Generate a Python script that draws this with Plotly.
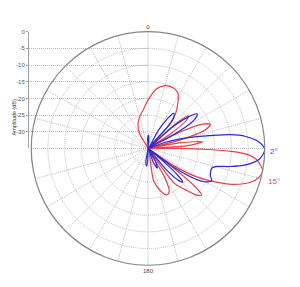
import plotly.graph_objects as go

# ---- data (angle clockwise from top, deg ; amplitude dB) ----
blue_theta = [-6, -2, 2, 6, 9,
              30, 33, 36, 39, 42, 45,
              49, 52, 55, 58, 61, 64,
              70, 74, 77, 80.5, 83, 86.5, 90.5, 95.5, 99.5, 102.5, 104.5, 107, 110, 114, 117, 120, 123, 126, 128,
              130, 132, 134, 136, 139, 144,
              150, 155, 159, 170,
              181, 185, 189, 193]
blue_r = [-35, -32, -31, -32.5, -35,
          -28.5, -24.5, -22, -22.5, -25.5, -35,
          -25, -19.5, -17, -18.5, -24, -35,
          -30, -24, -19, -10, -5.5, -1.8, 0, -1.5, -5.3, -10, -13.5, -15, -15, -14.5, -13.5, -15, -18.5, -25, -35,
          -29, -23, -20.5, -21.5, -26, -35,
          -30.5, -28.5, -30.5, -35,
          -31.5, -29.7, -31, -35]

red_theta = [-35, -30, -22, -14, -6, 0, 8, 15, 22, 28, 33, 38, 42, 45,
             48, 51, 54, 57, 60,
             63, 66, 69, 72, 75, 78,
             80, 83, 86, 88,
             90, 91, 92, 93.5, 96, 101, 105, 108.5, 113, 116.5, 120.5, 123.5, 126,
             127.5, 129, 131, 134, 138, 143, 147,
             150, 154, 158, 163, 170, 177]
red_r = [-35, -30, -27, -25, -23, -20.5, -17, -15.5, -15.3, -16, -18.5, -21.5, -26, -35,
         -25, -19.5, -21, -27, -35,
         -24, -17, -15, -17, -25, -35,
         -25, -18.5, -23, -35,
         -26, -17, -10, -5, -2.2, 0, -0.8, -2.8, -7.5, -12.5, -18.5, -25, -35,
         -25, -17, -13.7, -15, -18.5, -22, -35,
         -25, -20.5, -20, -21.5, -25, -35]

radial_ticks = [0, -5, -10, -15, -20, -25, -30]
angle_ticks = list(range(0, 360, 15))
angle_text = ["0" if a == 0 else ("180" if a == 180 else "") for a in angle_ticks]
series_labels = ["2°", "15°"]

W, H = 300, 287
grid = "#bdbdbd"
gdash = "1px,1px"
fnt = "Liberation Sans, Arial, sans-serif"

fig = go.Figure()
fig.add_trace(go.Scatterpolar(theta=red_theta, r=red_r, mode="lines",
                              line=dict(color="#e8414b", width=1.2, shape="spline", smoothing=0.8),
                              hoverinfo="skip", showlegend=False))
fig.add_trace(go.Scatterpolar(theta=blue_theta, r=blue_r, mode="lines",
                              line=dict(color="#2a2ad6", width=1.2, shape="spline", smoothing=0.8),
                              hoverinfo="skip", showlegend=False))
# invisible trace to materialise the cartesian amplitude axis
fig.add_trace(go.Scatter(x=[0.5], y=[-35], mode="markers", marker=dict(opacity=0),
                         hoverinfo="skip", showlegend=False))

cx0, cx1 = 30 / W, 266 / W
cy0, cy1 = (H - 265) / H, (H - 29) / H

fig.update_layout(
    width=W, height=H,
    margin=dict(l=0, r=0, t=0, b=0),
    paper_bgcolor="white", plot_bgcolor="rgba(0,0,0,0)",
    font=dict(family=fnt, size=6, color="#444"),
    polar=dict(
        domain=dict(x=[cx0, cx1], y=[cy0, cy1]),
        bgcolor="rgba(0,0,0,0)",
        radialaxis=dict(range=[-35, 0], tickvals=radial_ticks, showticklabels=False,
                        ticks="", showline=False, gridcolor=grid, griddash=gdash, gridwidth=1),
        angularaxis=dict(rotation=90, direction="clockwise", tickmode="array",
                         tickvals=angle_ticks, ticktext=angle_text, ticks="",
                         showline=True, linecolor="#858585", linewidth=1.2,
                         gridcolor=grid, griddash=gdash, gridwidth=1,
                         tickfont=dict(size=6, color="#444")),
    ),
    xaxis=dict(domain=[29 / W, 148 / W], range=[0, 1], visible=False, fixedrange=True),
    yaxis=dict(domain=[(H - 147) / H, (H - 29) / H], range=[-35, 0], tickvals=radial_ticks,
               ticktext=[str(v) for v in radial_ticks], showgrid=True, gridcolor=grid,
               griddash=gdash, gridwidth=1, zeroline=False, showline=True, linecolor="#a0a0a0",
               linewidth=1, ticks="outside", ticklen=2, tickcolor="#a0a0a0",
               tickfont=dict(size=6, color="#555"), anchor="x", fixedrange=True),
    annotations=[
        dict(text="Amplitude (dB)", x=9 / W, y=(H - 95) / H, xref="paper", yref="paper",
             showarrow=False, textangle=-90, font=dict(size=5.5, color="#444")),
        dict(text=series_labels[0], x=268 / W, y=(H - 150) / H, xref="paper", yref="paper",
             xanchor="left", showarrow=False, font=dict(size=8, color="#4848d8")),
        dict(text=series_labels[1], x=266 / W, y=(H - 180) / H, xref="paper", yref="paper",
             xanchor="left", showarrow=False, font=dict(size=8, color="#e85058")),
    ],
)

fig.write_html("out.html")
